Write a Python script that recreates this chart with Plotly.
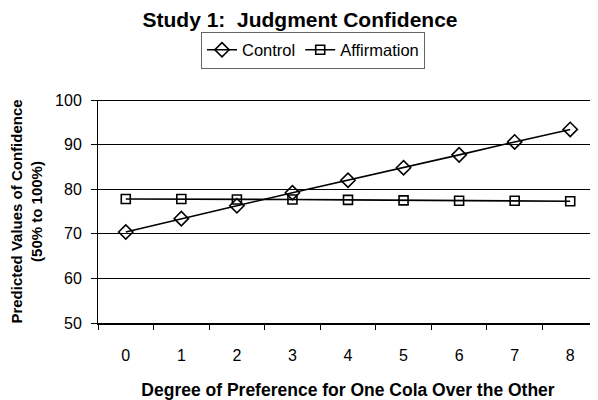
import plotly.graph_objects as go

categories = ["0", "1", "2", "3", "4", "5", "6", "7", "8"]
control = [70.4, 73.4, 76.3, 79.2, 82.0, 84.8, 87.7, 90.6, 93.4]
affirmation = [77.8, 77.8, 77.7, 77.7, 77.6, 77.5, 77.4, 77.4, 77.3]
yticks = [50, 60, 70, 80, 90, 100]

FONT = "Liberation Sans, Arial, sans-serif"

fig = go.Figure()
fig.add_trace(go.Scatter(
    x=categories, y=control, name="Control", mode="lines+markers",
    line=dict(color="black", width=1.6),
    marker=dict(symbol="diamond-open", size=11, color="black", line=dict(width=1.6)),
))
fig.add_trace(go.Scatter(
    x=categories, y=affirmation, name="Affirmation", mode="lines+markers",
    line=dict(color="black", width=1.6),
    marker=dict(symbol="square-open", size=9, color="black", line=dict(width=1.6)),
))

# page body has an 8px margin, so the figure is reduced accordingly
fig.update_layout(
    width=590, height=392,
    margin=dict(l=90, r=0, t=92, b=77),
    paper_bgcolor="white", plot_bgcolor="white",
    font=dict(family=FONT, size=16, color="black"),
    title=dict(text="<b>Study 1:  Judgment Confidence</b>", x=(300 - 8) / 590, xanchor="center",
               y=1 - 12 / 392, yanchor="middle", font=dict(size=21, family=FONT)),
    showlegend=True,
    legend=dict(orientation="h", x=0.43, xanchor="center", y=1.224, yanchor="middle",
                bordercolor="#666", borderwidth=1, font=dict(size=16.5, family=FONT),
                itemwidth=30, tracegroupgap=0),
)
fig.update_xaxes(
    type="category", range=[-0.5, 8.5],
    showline=True, linecolor="black", linewidth=2,
    ticks="outside", tickson="boundaries", ticklen=5, tickcolor="black",
    showgrid=False, tickfont=dict(size=16), ticklabelstandoff=17,
    title=dict(text="<b>Degree of Preference for One Cola Over the Other</b>",
               font=dict(size=17.5), standoff=25),
)
fig.update_yaxes(
    range=[50, 100], tickvals=yticks,
    showline=True, linecolor="black", linewidth=1,
    ticks="outside", ticklen=6, tickcolor="black",
    showgrid=True, gridcolor="black", gridwidth=1,
    tickfont=dict(size=16), ticklabelstandoff=6,
    title=dict(text="<b>Predicted Values of Confidence<br>(50% to 100%)</b>",
               font=dict(size=15), standoff=9),
)
fig.add_hline(y=100, line=dict(color="black", width=2))

fig.write_html("out.html")
